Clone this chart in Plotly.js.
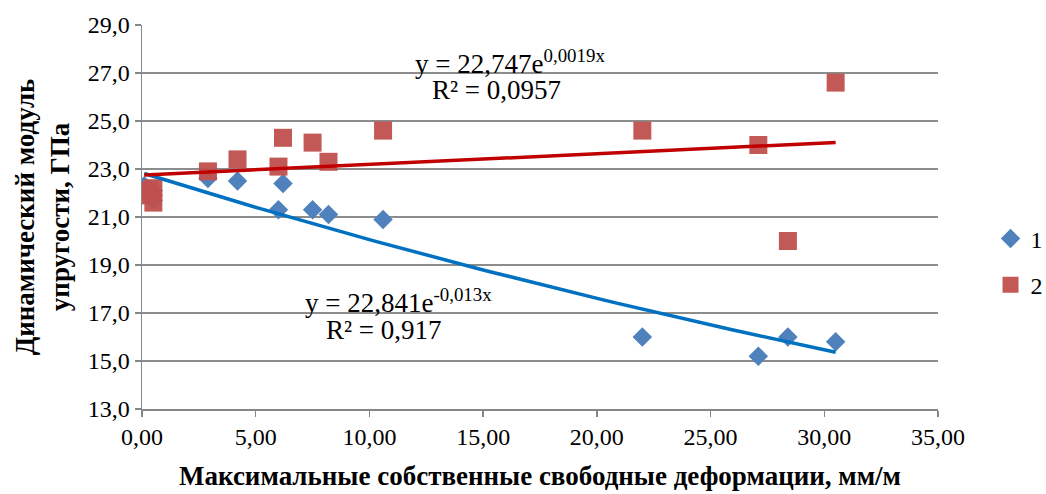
<!DOCTYPE html>
<html>
<head>
<meta charset="utf-8">
<script src="https://cdn.plot.ly/plotly-3.0.1.min.js"></script>
<style>
  html, body { margin: 0; padding: 0; background: #fff; }
  #chart { width: 1046px; height: 494px; }
</style>
</head>
<body>
<div id="chart"></div>
<script>
// Максимальные собственные свободные деформации, мм/м
const strain = [0.1, 0.3, 0.5, 0.5, 2.9, 4.2, 6.0, 6.2, 7.5, 8.2, 10.6, 22.0, 27.1, 28.4, 30.5];
// Series 1 — dynamic modulus, GPa
const modulus1 = [22.3, 22.0, 21.7, 22.1, 22.6, 22.5, 21.3, 22.4, 21.3, 21.1, 20.9, 16.0, 15.2, 16.0, 15.8];
// Series 2 — dynamic modulus, GPa
const modulus2 = [21.9, 22.1, 21.6, 22.2, 22.9, 23.4, 23.1, 24.3, 24.1, 23.3, 24.6, 24.6, 24.0, 20.0, 26.6];

const seriesNames = ['1', '2'];
// exponential trend y = a·e^(b·x)
const trendA = [22.841, 22.747];
const trendB = [-0.013, 0.0019];
const trendR2 = ['0,917', '0,0957'];
const trendLabelB = ['-0,013', '0,0019'];
const trendLabelA = ['22,841', '22,747'];

const yTicks = [13, 15, 17, 19, 21, 23, 25, 27, 29];
const xTicks = [0, 5, 10, 15, 20, 25, 30, 35];

function trendLine(a, b) {
  const lo = Math.min(...strain), hi = Math.max(...strain);
  const xs = [], ys = [];
  const n = 60;
  for (let i = 0; i <= n; i++) {
    const x = lo + (hi - lo) * i / n;
    xs.push(x);
    ys.push(a * Math.exp(b * x));
  }
  return { xs, ys };
}

const t1 = trendLine(trendA[0], trendB[0]);
const t2 = trendLine(trendA[1], trendB[1]);

const font = '"Liberation Serif", "Times New Roman", serif';

const traces = [
  {
    x: strain, y: modulus1, name: seriesNames[0], type: 'scatter', mode: 'markers', legendgroup: 'g1',
    marker: { symbol: 'diamond', size: 15, color: '#4F81BD', line: { width: 0 } }
  },
  {
    x: strain, y: modulus2, name: seriesNames[1], type: 'scatter', mode: 'markers', legendgroup: 'g2',
    marker: { symbol: 'square', size: 18, color: '#C0504D', opacity: 0.95, line: { width: 0 } }
  },
  {
    x: t1.xs, y: t1.ys, type: 'scatter', mode: 'lines', showlegend: false, hoverinfo: 'skip',
    line: { color: '#0070C0', width: 3.5 }
  },
  {
    x: t2.xs, y: t2.ys, type: 'scatter', mode: 'lines', showlegend: false, hoverinfo: 'skip',
    line: { color: '#C00000', width: 3.5 }
  }
];

const layout = {
  width: 1046, height: 494,
  margin: { l: 142, r: 108, t: 25, b: 85, autoexpand: false },
  paper_bgcolor: '#fff', plot_bgcolor: '#fff',
  separators: ', ',
  font: { family: font, size: 24, color: '#000' },
  showlegend: true,
  legend: {
    x: 1.066, xanchor: 'left', y: 0.383, yanchor: 'middle',
    font: { family: font, size: 24, color: '#000' },
    tracegroupgap: 12, itemsizing: 'trace', itemwidth: 30
  },
  xaxis: {
    range: [0, 35], tickvals: xTicks, tickformat: '.2f',
    showgrid: false, zeroline: false,
    showline: true, linecolor: '#868686', linewidth: 1.5,
    ticks: 'outside', ticklen: 6, tickcolor: '#868686', tickwidth: 1.5,
    tickfont: { family: font, size: 24 },
    title: {
      text: '<b>Максимальные собственные свободные деформации, мм/м</b>',
      font: { family: font, size: 27 }, standoff: 17
    }
  },
  yaxis: {
    range: [13, 29], tickvals: yTicks, tickformat: '.1f',
    showgrid: true, gridcolor: '#8c8c8c', gridwidth: 1.5, zeroline: false,
    showline: true, linecolor: '#868686', linewidth: 1.5,
    ticks: 'outside', ticklen: 6, tickcolor: '#868686', tickwidth: 1.5,
    tickfont: { family: font, size: 24 },
    title: {
      text: '<b>Динамический модуль<br>упругости, ГПа</b>',
      font: { family: font, size: 27 }, standoff: 10
    }
  },
  annotations: [
    {
      x: 16.2, y: 27.46, xref: 'x', yref: 'y', showarrow: false, xanchor: 'center',
      text: 'y = ' + trendLabelA[1] + 'e<sup>' + trendLabelB[1] + 'x</sup>',
      font: { family: font, size: 27 }
    },
    {
      x: 15.6, y: 26.3, xref: 'x', yref: 'y', showarrow: false, xanchor: 'center',
      text: 'R² = ' + trendR2[1],
      font: { family: font, size: 27 }
    },
    {
      x: 11.26, y: 17.48, xref: 'x', yref: 'y', showarrow: false, xanchor: 'center',
      text: 'y = ' + trendLabelA[0] + 'e<sup>' + trendLabelB[0] + 'x</sup>',
      font: { family: font, size: 27 }
    },
    {
      x: 10.64, y: 16.31, xref: 'x', yref: 'y', showarrow: false, xanchor: 'center',
      text: 'R² = ' + trendR2[0],
      font: { family: font, size: 27 }
    }
  ]
};

Plotly.newPlot('chart', traces, layout, { displayModeBar: false, staticPlot: true });
</script>
</body>
</html>
